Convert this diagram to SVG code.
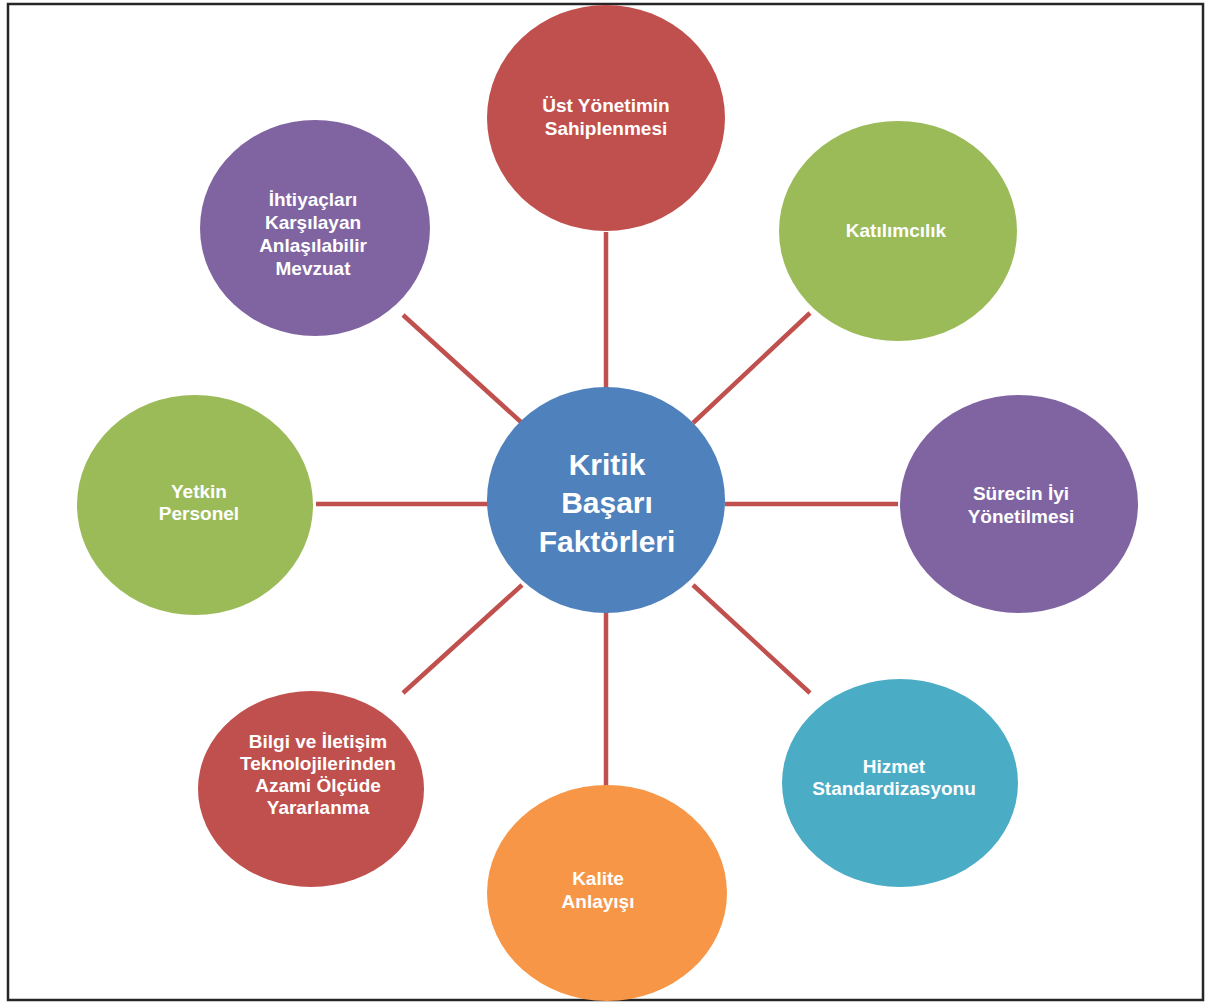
<svg xmlns="http://www.w3.org/2000/svg" width="1207" height="1003" viewBox="0 0 1207 1003">
<style>
.t{font-family:"Liberation Sans",Arial,sans-serif;font-weight:bold;fill:#ffffff;text-anchor:middle;font-size:19px}
.big{font-size:30px}
.cn line{stroke:#C0504D;stroke-width:4.5}
</style>
<rect x="0" y="0" width="1207" height="1003" fill="#ffffff"/>
<rect x="8" y="4" width="1195" height="996" fill="none" stroke="#262626" stroke-width="2.5"/>
<g id="connectors" class="cn">
<line x1="606" y1="232" x2="606" y2="388"/>
<line x1="606" y1="612" x2="606" y2="786"/>
<line x1="316" y1="504" x2="488" y2="504"/>
<line x1="725" y1="504" x2="898" y2="504"/>
<line x1="403" y1="315" x2="522" y2="423"/>
<line x1="810" y1="313" x2="693" y2="423"/>
<line x1="403" y1="693" x2="522" y2="585"/>
<line x1="810" y1="693" x2="693" y2="585"/>
</g>
<g id="center">
<ellipse cx="606" cy="500" rx="119" ry="113" fill="#4F81BD"/>
<text class="t big" x="607" y="475">Kritik</text>
<text class="t big" x="607" y="513">Başarı</text>
<text class="t big" x="607" y="552">Faktörleri</text>
</g>
<g id="n-ust">
<ellipse cx="606" cy="118" rx="119" ry="113" fill="#C0504D"/>
<text class="t" x="606" y="112">Üst Yönetimin</text>
<text class="t" x="606" y="135">Sahiplenmesi</text>
</g>
<g id="n-katilim">
<ellipse cx="898" cy="231" rx="119" ry="110" fill="#9BBB59"/>
<text class="t" x="896" y="237">Katılımcılık</text>
</g>
<g id="n-surec">
<ellipse cx="1019" cy="504" rx="119" ry="109" fill="#8064A2"/>
<text class="t" x="1021" y="500">Sürecin İyi</text>
<text class="t" x="1021" y="523">Yönetilmesi</text>
</g>
<g id="n-hizmet">
<ellipse cx="900" cy="783" rx="118" ry="104" fill="#4BACC6"/>
<text class="t" x="894" y="773">Hizmet</text>
<text class="t" x="894" y="795">Standardizasyonu</text>
</g>
<g id="n-kalite">
<ellipse cx="607" cy="893" rx="120" ry="108" fill="#F79646"/>
<text class="t" x="598" y="885">Kalite</text>
<text class="t" x="598" y="908">Anlayışı</text>
</g>
<g id="n-bilgi">
<ellipse cx="311" cy="789" rx="113" ry="98" fill="#C0504D"/>
<text class="t" x="318" y="748">Bilgi ve İletişim</text>
<text class="t" x="318" y="770">Teknolojilerinden</text>
<text class="t" x="318" y="792">Azami Ölçüde</text>
<text class="t" x="318" y="814">Yararlanma</text>
</g>
<g id="n-yetkin">
<ellipse cx="195" cy="505" rx="118" ry="110" fill="#9BBB59"/>
<text class="t" x="199" y="498">Yetkin</text>
<text class="t" x="199" y="520">Personel</text>
</g>
<g id="n-ihtiyac">
<ellipse cx="315" cy="228" rx="115" ry="108" fill="#8064A2"/>
<text class="t" x="313" y="206">İhtiyaçları</text>
<text class="t" x="313" y="229">Karşılayan</text>
<text class="t" x="313" y="252">Anlaşılabilir</text>
<text class="t" x="313" y="275">Mevzuat</text>
</g>
</svg>
